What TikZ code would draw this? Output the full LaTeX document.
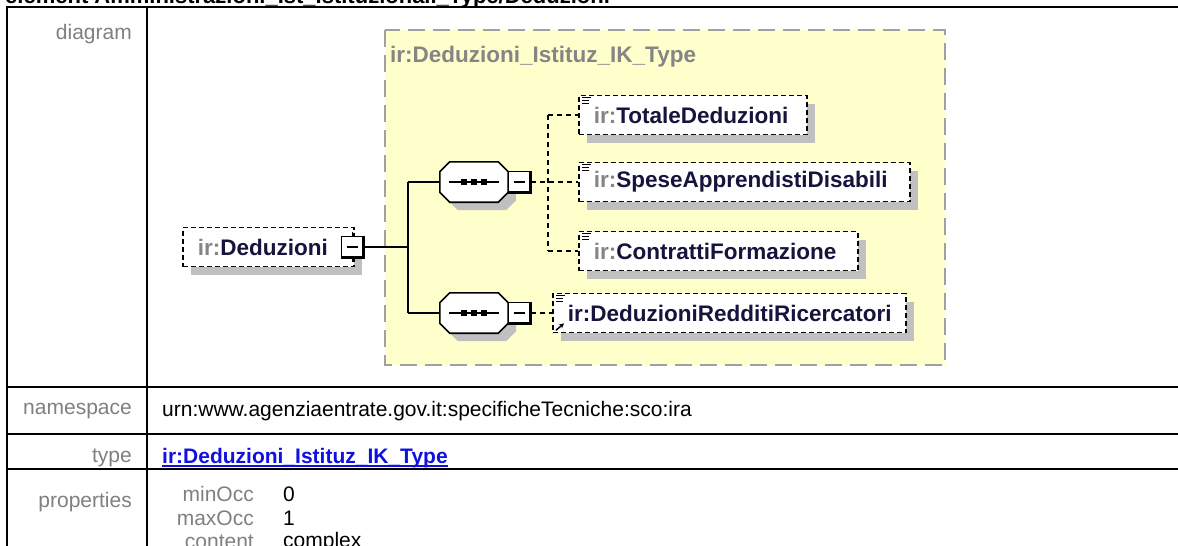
\documentclass[tikz,border=0pt]{standalone}
\usepackage{fontspec}
\setmainfont{Liberation Sans}
\usetikzlibrary{shadows,calc,arrows.meta}
\definecolor{yel}{HTML}{FFFFCC}
\definecolor{shd}{HTML}{C0C0C0}
\definecolor{pfxc}{HTML}{858585}
\definecolor{nmc}{HTML}{14143C}
\definecolor{lblc}{HTML}{808080}
\definecolor{lnkc}{HTML}{1010E0}
\definecolor{ybord}{HTML}{A0A0A0}
\newcommand\prefc{\color{pfxc}}
\newcommand\namec{\color{nmc}}
\newcommand\octagonat[1]{%
  \fill[shd] ($(#1.north west)+(18,8)$) -- ($(#1.north east)+(-2,8)$) -- ($(#1.north east)+(8,18)$) -- ($(#1.south east)+(8,-2)$) -- ($(#1.south east)+(-2,8)$) -- ($(#1.south west)+(18,8)$) -- ($(#1.south west)+(8,-2)$) -- ($(#1.north west)+(8,18)$) -- cycle;
  \draw[line width=1.6pt, fill=white] ($(#1.north west)+(10,0)$) -- ($(#1.north east)+(-10,0)$) -- ($(#1.north east)+(0,10)$) -- ($(#1.south east)+(0,-10)$) -- ($(#1.south east)+(-10,0)$) -- ($(#1.south west)+(10,0)$) -- ($(#1.south west)+(0,-10)$) -- ($(#1.north west)+(0,10)$) -- cycle;
  \draw[line width=1.4pt] ($(#1.center)+(-25,0)$) -- ($(#1.center)+(25,0)$);
  \foreach \dx in {-10,0,10} {\fill ($(#1.center)+(\dx-3,-3)$) rectangle ($(#1.center)+(\dx+3,3)$);}
}
\newcommand\docicon[1]{%
  \draw[line width=1pt] ($(#1.north west)+(4,3)$) -- ($(#1.north west)+(13,3)$);
  \draw[line width=1pt] ($(#1.north west)+(4,6)$) -- ($(#1.north west)+(11,6)$);
  \draw[line width=1pt] ($(#1.north west)+(4,9)$) -- ($(#1.north west)+(11,9)$);
}
\newcommand\minusedge[1]{%
  \draw[line width=2.6pt] ($(#1.north east)+(-0.5,0)$) -- ($(#1.south east)+(-0.5,-0.5)$) -- ($(#1.south west)+(0,-0.5)$);
}
\begin{document}
\begin{tikzpicture}[x=1pt,y=-1pt,
  lbl/.style={font=\fontsize{21}{25}\selectfont, text=lblc, inner sep=0pt, anchor=east},
  val/.style={font=\fontsize{21}{25}\selectfont, text=black, inner sep=0pt, anchor=west},
  lnk/.style={font=\fontsize{21}{25}\selectfont\bfseries, text=lnkc, inner sep=0pt, anchor=west},
  elem/.style={draw, line width=1.6pt, dash pattern=on 5pt off 3pt, fill=white,
    minimum height=39pt, inner xsep=15pt, inner ysep=2pt, align=left, anchor=west,
    drop shadow={shadow xshift=8pt, shadow yshift=-8pt, fill=shd, opacity=1},
    font=\fontsize{22.5}{27}\selectfont\bfseries},
  minusbox/.style={draw, line width=1.5pt, fill=white, minimum width=22pt, minimum height=21pt, inner sep=0pt,
    path picture={\draw[line width=1.3pt] ($(path picture bounding box.west)+(5,0)$) -- ($(path picture bounding box.east)+(-6,0)$);}},
  seqbox/.style={minimum width=68pt, minimum height=40pt, inner sep=0pt},
  conn/.style={line width=1.5pt},
  dconn/.style={line width=1.5pt, dash pattern=on 5pt off 4pt}]
\useasboundingbox (0,0) rectangle (1178,546);
\fill[white] (0,0) rectangle (1178,546);
% title (cut at top)
\node[font=\fontsize{22}{26}\selectfont\bfseries, inner sep=0pt, anchor=base west] (title) at (5,3) {element Amministrazioni\_Ist\_Istituzionali\_Type/Deduzioni};
% table
\draw[line width=2pt] (7,546) -- (7,7) -- (1178,7);
\draw[line width=2pt] (147,7) -- (147,546);
\draw[line width=2pt] (7,387) -- (1178,387);
\draw[line width=2pt] (7,434) -- (1178,434);
\draw[line width=2pt] (7,469) -- (1178,469);
\node[lbl] (ldiag) at (132,34) {diagram};
\node[lbl] (lns) at (132,411) {namespace};
\node[val] (vns) at (162,411) {urn:www.agenziaentrate.gov.it:specificheTecniche:sco:ira};
\node[lbl] (ltype) at (132,458) {type};
\node[lnk] (vtype) at (162,458) {ir:Deduzioni\_Istituz\_IK\_Type};
\draw[lnkc, line width=1.5pt] ($(vtype.base west)+(0,2.5)$) -- ($(vtype.base east)+(0,2.5)$);
\node[lbl] (lprop) at (132,502) {properties};
\node[lbl] (lmin) at (254,494) {minOcc};
\node[val] (vmin) at (283,494) {0};
\node[lbl] (lmax) at (254,518) {maxOcc};
\node[lbl] (lcont) at (254,542) {content};
\node[val] (vmax) at (283,518) {1};
\node[val] (vcont) at (283,542) {complex};
% yellow type box
\fill[yel] (385,30) rectangle (945,365);
\draw[ybord, line width=2pt, dash pattern=on 17pt off 8pt] (385,30) rectangle (945,365);
\node[font=\fontsize{22.5}{27}\selectfont\bfseries, text=pfxc, inner sep=0pt, anchor=west] (tlabel) at (390,57) {ir:Deduzioni\_Istituz\_IK\_Type};
% root element
\node[elem, text width=141pt] (ded) at (182,247) {\prefc ir:\namec Deduzioni};
\node[minusbox] (m0) at (352.5,247) {};
\minusedge{m0}
\draw[line width=1.3pt] (m0.north) -- ++(0,-4);
\draw[line width=1.3pt] (m0.south) -- ++(0,4);
% sequences
\node[seqbox] (s1) at (474,182) {};
\node[seqbox] (s2) at (474,313) {};
\octagonat{s1}
\octagonat{s2}
\node[minusbox] (m1) at (519.5,182) {};
\minusedge{m1}
\node[minusbox] (m2) at (519.5,313) {};
\minusedge{m2}
% child elements
\node[elem, text width=198pt] (tot) at (578,115) {\prefc ir:\namec TotaleDeduzioni};
\node[elem, text width=301pt] (spe) at (578,182) {\prefc ir:\namec SpeseApprendistiDisabili};
\node[elem, text width=249pt] (con) at (578,251) {\prefc ir:\namec ContrattiFormazione};
\node[elem, text width=323pt] (red) at (552,313) {\namec ir:DeduzioniRedditiRicercatori};
\docicon{tot}
\docicon{spe}
\docicon{con}
\docicon{red}
\draw[line width=1.5pt, -{Stealth[length=5pt,width=5pt]}] ($(red.south west)+(4,-3)$) -- ($(red.south west)+(12,-10)$);
% solid connectors
\coordinate (jx) at (408,0);
\draw[conn] (m0.east) -- (m0.east -| jx);
\draw[conn] (s1.west -| jx) -- (s2.west -| jx);
\draw[conn] (s1.west -| jx) -- (s1.west);
\draw[conn] (s2.west -| jx) -- (s2.west);
% dashed connectors
\coordinate (dx) at (548,0);
\draw[dconn] (m1.east) -- (spe.west);
\draw[dconn] (tot.west -| dx) -- (con.west -| dx);
\draw[dconn] (tot.west -| dx) -- (tot.west);
\draw[dconn] (con.west -| dx) -- (con.west);
\draw[dconn] (m2.east) -- (red.west);
\end{tikzpicture}
\end{document}
